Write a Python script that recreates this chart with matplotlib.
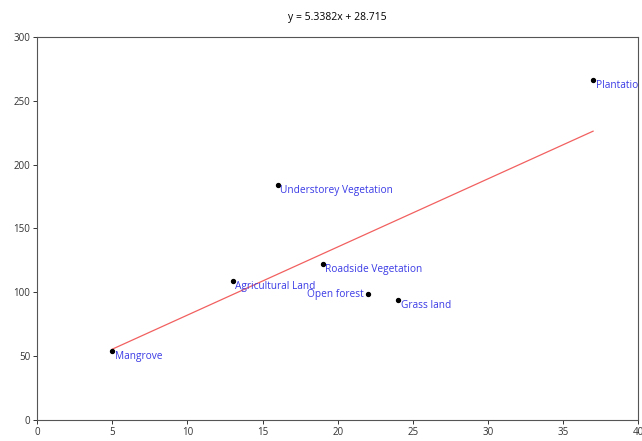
import numpy as np
from matplotlib import pyplot as plt

plt.rcParams['font.family'] = ['Open Sans', 'DejaVu Sans']

names = ["Mangrove", "Agricultural Land", "Understorey Vegetation", "Roadside Vegetation",
         "Open forest", "Grass land", "Plantation"]
x = [5, 13, 16, 19, 22, 24, 37]
y = [54, 109, 184, 122, 99, 94, 266]
slope = 5.3382
intercept = 28.715

fig = plt.figure(figsize=(6.42, 4.41), dpi=100)
ax = fig.add_axes([0.058, 0.048, 0.936, 0.868])

xs = np.array([min(x), max(x)])
ax.plot(xs, slope * xs + intercept, color="#f26060", linewidth=0.9)
ax.scatter(x, y, s=8, color="black", zorder=3)

for name, xi, yi in zip(names, x, y):
    if name == "Open forest":
        ax.annotate(name, (xi, yi), xytext=(-3, -1), textcoords="offset points",
                    ha="right", va="center", color="#3a3ae6", fontsize=7.3)
    else:
        ax.annotate(name, (xi, yi), xytext=(2, -4), textcoords="offset points",
                    ha="left", va="center", color="#3a3ae6", fontsize=7.3,
                    annotation_clip=False, clip_on=True)

ax.set_xlim(0, 40)
ax.set_ylim(0, 300)
ax.set_xticks(range(0, 41, 5))
ax.set_yticks(range(0, 301, 50))
ax.tick_params(labelsize=7, length=3, width=0.7, pad=2, colors="#333333")
for s in ax.spines.values():
    s.set_color("#555555")
    s.set_linewidth(0.8)
ax.set_title("y = 5.3382x + 28.715", fontsize=7.5, pad=12)

fig.savefig("out.png", dpi=100)
